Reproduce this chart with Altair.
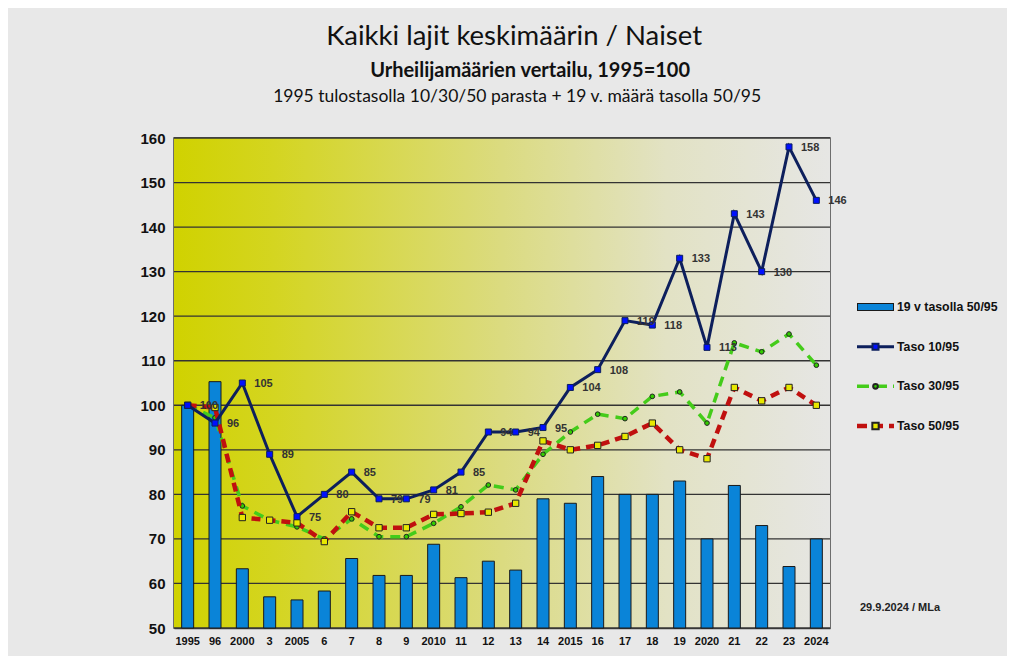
import altair as alt
import pandas as pd

years = ["1995", "96", "2000", "3", "2005", "6", "7", "8", "9", "2010", "11", "12",
         "13", "14", "2015", "16", "17", "18", "19", "2020", "21", "22", "23", "2024"]
bar19 = [100, 105.3, 63.3, 57, 56.3, 58.3, 65.6, 61.8, 61.8, 68.8, 61.3, 65,
         63, 79, 78, 84, 80, 80, 83, 70, 82, 73, 63.8, 70]
taso10 = [100, 96, 105, 89, 75, 80, 85, 79, 79, 81, 85, 94,
          94, 95, 104, 108, 119, 118, 133, 113, 143, 130, 158, 146]
taso30 = [100, 97.2, 77.4, 74.2, 72.7, 70, 74.5, 70.5, 70.5, 73.5, 77.2, 82.1,
          81, 89, 94, 98, 97, 102, 103, 96, 114, 112, 116, 109]
taso50 = [100, 99.5, 74.8, 74.2, 73.6, 69.4, 76.1, 72.5, 72.5, 75.5, 75.7, 76,
          78, 92, 90, 91, 93, 96, 90, 88, 104, 101, 104, 100]
yticks = [50, 60, 70, 80, 90, 100, 110, 120, 130, 140, 150, 160]

legend_labels = ["19 v tasolla 50/95", "Taso 10/95", "Taso 30/95", "Taso 50/95"]
title1 = "Kaikki lajit keskimäärin / Naiset"
title2 = "Urheilijamäärien vertailu, 1995=100"
title3 = "1995 tulostasolla 10/30/50 parasta + 19 v. määrä tasolla 50/95"
footnote = "29.9.2024 / MLa"

df = pd.DataFrame({"year": years, "bar19": bar19, "t10": taso10, "t30": taso30, "t50": taso50})

W, H = 656, 490
FONT = "Liberation Sans"

grad = alt.LinearGradient(
    gradient="linear", x1=0, x2=1, y1=0, y2=0,
    stops=[alt.GradientStop(color="#d0d200", offset=0),
           alt.GradientStop(color="#d4d520", offset=0.15),
           alt.GradientStop(color="#dbdb80", offset=0.5),
           alt.GradientStop(color="#e2e2c4", offset=0.75),
           alt.GradientStop(color="#e6e6e4", offset=1)])

xenc = alt.X("year:N", sort=years,
             scale=alt.Scale(paddingInner=0, paddingOuter=0),
             axis=alt.Axis(title=None, labelAngle=0, labelFontWeight="bold", labelFontSize=11,
                           labelColor="#111", labelFont=FONT, ticks=False, labelPadding=7,
                           domainColor="#444", domainWidth=1.5))
yscale = alt.Scale(domain=[50, 160], nice=False, zero=False)
yaxis = alt.Axis(title=None, values=yticks, labelFontWeight="bold",
                 labelFontSize=15, labelColor="#111", labelFont=FONT, ticks=False,
                 labelPadding=9, grid=False, domainColor="#888")

bg = alt.Chart(pd.DataFrame({"a": [0]})).mark_rect(color=grad).encode(
    x=alt.value(0), x2=alt.value(W), y=alt.value(0), y2=alt.value(H))
grid = alt.Chart(pd.DataFrame({"v": yticks})).mark_rule(color="#333", strokeWidth=1.3).encode(
    y=alt.Y("v:Q", scale=yscale, axis=yaxis))

base = alt.Chart(df).encode(x=xenc)

bars = base.mark_bar(size=12, color="#0a84d8", stroke="#1a1a1a", strokeWidth=1).encode(
    y=alt.Y("bar19:Q", scale=yscale), y2=alt.datum(50))

green = base.mark_line(color="#44cc1a", strokeWidth=3.5, strokeDash=[10, 7]).encode(
    y=alt.Y("t30:Q", scale=yscale))
green_pts = base.mark_point(shape="circle", size=22, filled=True, fill="#33cc00",
                            stroke="#222", strokeWidth=1, opacity=1).encode(y=alt.Y("t30:Q", scale=yscale))
red = base.mark_line(color="#c0100f", strokeWidth=4.5, strokeDash=[9, 6]).encode(
    y=alt.Y("t50:Q", scale=yscale))
red_pts = base.mark_point(shape="square", size=40, filled=True, fill="#e8e800",
                          stroke="#222", strokeWidth=1, opacity=1).encode(y=alt.Y("t50:Q", scale=yscale))
navy = base.mark_line(color="#0d1f5c", strokeWidth=3).encode(y=alt.Y("t10:Q", scale=yscale))
navy_pts = base.mark_point(shape="square", size=36, filled=True, fill="#0010ff",
                           stroke="#0d1f5c", strokeWidth=1, opacity=1).encode(y=alt.Y("t10:Q", scale=yscale))
navy_lbl = base.mark_text(align="left", baseline="middle", dx=12, dy=1, fontSize=11,
                          fontWeight="bold", color="#333", font=FONT).encode(
    y=alt.Y("t10:Q", scale=yscale), text=alt.Text("t10:Q", format=".0f"))

main = alt.layer(bg, grid, bars, green, green_pts, red, red_pts, navy, navy_pts, navy_lbl).properties(
    width=W, height=H,
    view=alt.ViewBackground(stroke="#444", strokeWidth=1.5))

# legend panel
leg = pd.DataFrame({"label": legend_labels})
ly = alt.Y("label:N", sort=legend_labels, axis=None,
           scale=alt.Scale(type="point", range=[169, 288], padding=0))
lbase = alt.Chart(leg).encode(y=ly)
L = 37


def sel(name):
    return alt.datum.label == name


leg_bar_o = lbase.mark_rule(color="#1a1a1a", strokeWidth=8, strokeCap="butt").encode(
    x=alt.value(0), x2=alt.value(L)).transform_filter(sel(legend_labels[0]))
leg_bar_i = lbase.mark_rule(color="#0a84d8", strokeWidth=6, strokeCap="butt").encode(
    x=alt.value(1), x2=alt.value(L - 1)).transform_filter(sel(legend_labels[0]))
leg_navy = lbase.mark_rule(color="#0d1f5c", strokeWidth=3).encode(
    x=alt.value(0), x2=alt.value(L)).transform_filter(sel(legend_labels[1]))
leg_navy_p = lbase.mark_point(shape="square", size=36, filled=True, fill="#0010ff",
                              stroke="#0d1f5c", opacity=1).encode(
    x=alt.value(L / 2)).transform_filter(sel(legend_labels[1]))
leg_green = lbase.mark_rule(color="#44cc1a", strokeWidth=3.5, strokeDash=[12, 6]).encode(
    x=alt.value(0), x2=alt.value(L)).transform_filter(sel(legend_labels[2]))
leg_green_p = lbase.mark_point(shape="circle", size=22, filled=True, fill="#33cc00",
                               stroke="#222", opacity=1).encode(
    x=alt.value(L / 2)).transform_filter(sel(legend_labels[2]))
leg_red = lbase.mark_rule(color="#c0100f", strokeWidth=4.5, strokeDash=[10, 6]).encode(
    x=alt.value(0), x2=alt.value(L)).transform_filter(sel(legend_labels[3]))
leg_red_p = lbase.mark_point(shape="square", size=40, filled=True, fill="#e8e800",
                             stroke="#222", opacity=1).encode(
    x=alt.value(L / 2)).transform_filter(sel(legend_labels[3]))
leg_txt = lbase.mark_text(align="left", baseline="middle", fontSize=12.3, fontWeight="bold",
                          color="#111", font=FONT).encode(x=alt.value(L + 3), text="label:N")
foot = alt.Chart(pd.DataFrame({"t": [footnote]})).mark_text(
    align="left", baseline="middle", fontSize=11, fontWeight="bold", color="#222", font=FONT
).encode(x=alt.value(3), y=alt.value(470), text="t:N")

legend = alt.layer(leg_bar_o, leg_bar_i, leg_navy, leg_navy_p, leg_green, leg_green_p,
                   leg_red, leg_red_p, leg_txt, foot).properties(
    width=150, height=H,
    view=alt.ViewBackground(fill="transparent", stroke="transparent"))

inner = alt.hconcat(main, legend, spacing=27, bounds="flush").properties(
    title=alt.TitleParams(title3, fontSize=17.5, fontWeight="normal", font="Lato",
                          color="#111", anchor="middle", offset=25, dx=-56))

mid = alt.vconcat(inner).properties(
    title=alt.TitleParams(title2, fontSize=20, fontWeight="bold", font="Lato",
                          color="#111", anchor="middle", offset=7, dx=-43))

chart = alt.vconcat(mid).properties(
    title=alt.TitleParams(title1, fontSize=27.5, fontWeight="normal", font="Lato",
                          color="#111", anchor="middle", offset=10, dx=-59),
    padding={"left": 131, "top": 15, "right": 0, "bottom": 9},
    background="#e8e8e8"
).configure_view(strokeWidth=0)

chart.save("out.html", embed_options={"renderer": "svg", "actions": False})
